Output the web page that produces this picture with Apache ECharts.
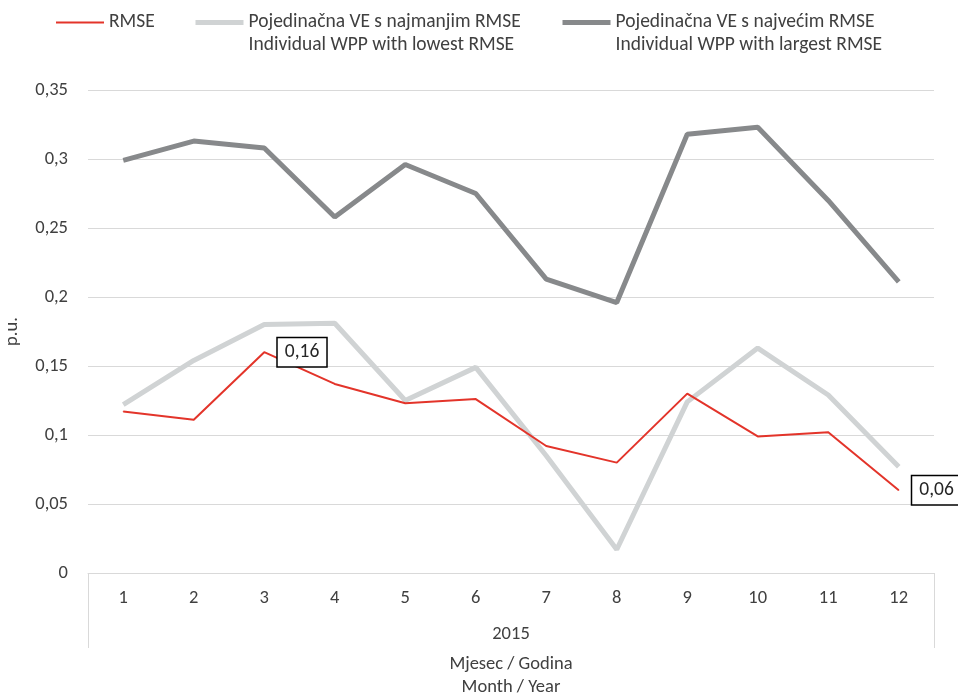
<!DOCTYPE html>
<html>
<head>
<meta charset="utf-8">
<script src="https://cdn.jsdelivr.net/npm/echarts@6/dist/echarts.min.js"></script>
<style>html,body{margin:0;padding:0;background:#fff}#c{width:958px;height:695px}</style>
</head>
<body>
<div id="c"></div>
<script>
const months = ['1','2','3','4','5','6','7','8','9','10','11','12'];
const years = ['2015'];
const rmse = [0.117, 0.111, 0.160, 0.137, 0.123, 0.126, 0.092, 0.080, 0.130, 0.099, 0.102, 0.060];
const lowest = [0.122, 0.154, 0.180, 0.181, 0.125, 0.149, 0.085, 0.017, 0.124, 0.163, 0.129, 0.077];
const largest = [0.299, 0.313, 0.308, 0.258, 0.296, 0.275, 0.213, 0.196, 0.318, 0.323, 0.270, 0.211];
const labelledIdx = [2, 11];
const seriesNames = ['RMSE', 'Pojedinačna VE s najmanjim RMSE\nIndividual WPP with lowest RMSE', 'Pojedinačna VE s najvećim RMSE\nIndividual WPP with largest RMSE'];
const yTicks = { min: 0, max: 0.35, interval: 0.05 };

const FONT = 'Carlito, Lato, sans-serif';
const TXT = '#404040';
const fmt = v => String(+v.toFixed(2)).replace('.', ',');

const chart = echarts.init(document.getElementById('c'), null, { renderer: 'canvas' });

function legendFor(name, left, top, width) {
  return {
    data: [name], left: left, top: top, padding: 0,
    itemWidth: 48, itemHeight: 14, selectedMode: false,
    lineStyle: { width: width },
    itemStyle: { opacity: 0 },
    textStyle: { fontFamily: FONT, fontSize: 19.5, color: TXT, lineHeight: 23 },
    formatter: n => n.indexOf('\n') >= 0 ? ' \n' + n : n
  };
}

chart.setOption({
  animation: false,
  backgroundColor: '#fff',
  legend: [
    legendFor(seriesNames[0], 55, 11, 2),
    legendFor(seriesNames[1], 193, -12, 5),
    legendFor(seriesNames[2], 560, -12, 5)
  ],
  grid: { left: 88, right: 24, top: 90, bottom: 122, containLabel: false, outerBoundsMode: 'none' },
  xAxis: [
    {
      type: 'category', data: months, boundaryGap: true,
      axisLine: { lineStyle: { color: '#d9d9d9', width: 1 } },
      axisTick: { show: false },
      axisLabel: { margin: 16, fontFamily: FONT, fontSize: 18.5, color: TXT },
      name: 'Mjesec / Godina\nMonth / Year', nameLocation: 'middle', nameGap: 80,
      nameTextStyle: { fontFamily: FONT, fontSize: 18.5, color: TXT, lineHeight: 23, verticalAlign: 'top' }
    },
    {
      type: 'category', data: years, position: 'bottom', boundaryGap: true,
      axisLine: { show: false },
      axisTick: { show: true, length: 75, interval: 0, lineStyle: { color: '#d9d9d9' } },
      axisLabel: { margin: 52, fontFamily: FONT, fontSize: 18.5, color: TXT },
      splitLine: { show: false }
    }
  ],
  yAxis: {
    type: 'value', min: yTicks.min, max: yTicks.max, interval: yTicks.interval,
    axisLine: { show: false }, axisTick: { show: false },
    axisLabel: { margin: 20, fontFamily: FONT, fontSize: 18.5, color: TXT, formatter: fmt },
    splitLine: { lineStyle: { color: '#d9d9d9', width: 1 } },
    name: 'p.u.', nameLocation: 'middle', nameGap: 66,
    nameTextStyle: { fontFamily: FONT, fontSize: 18.5, color: TXT }
  },
  series: [
    {
      name: seriesNames[0], type: 'line', symbol: 'circle', symbolSize: 1, showSymbol: true, z: 3,
      lineStyle: { color: '#e3342a', width: 2 }, itemStyle: { color: '#e3342a' },
      data: rmse.map((v, i) => labelledIdx.includes(i) ? {
        value: v,
        label: {
          show: true, position: 'right', distance: 13, formatter: p => fmt(p.value),
          fontFamily: FONT, fontSize: 19.5, color: '#262626',
          backgroundColor: '#fff', borderColor: '#000', borderWidth: 1.5, padding: [5, 7, 3, 7]
        }
      } : v),
      labelLayout: { hideOverlap: false }
    },
    {
      name: seriesNames[1], type: 'line', symbol: 'none', z: 2,
      lineStyle: { color: '#d0d3d4', width: 5 }, itemStyle: { color: '#d0d3d4' },
      data: lowest
    },
    {
      name: seriesNames[2], type: 'line', symbol: 'none', z: 2,
      lineStyle: { color: '#87898b', width: 5 }, itemStyle: { color: '#87898b' },
      data: largest
    }
  ]
});
</script>
</body>
</html>
